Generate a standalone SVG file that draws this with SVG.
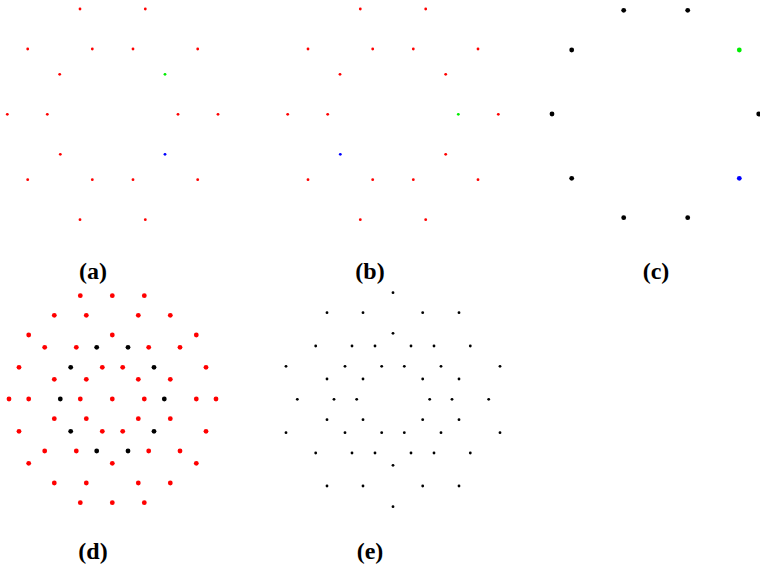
<svg xmlns="http://www.w3.org/2000/svg" width="760" height="570" viewBox="0 0 760 570">
<style>
.r{fill:#ff0000}.g{fill:#00ee00}.b{fill:#0000ff}.k{fill:#000000}
.lbl{font-family:"Liberation Serif",serif;font-weight:bold;font-size:24px;fill:#000;text-anchor:middle}
</style>
<rect width="760" height="570" fill="#ffffff"/>
<g id="panel-a">
<g class="r">
<circle cx="80" cy="9" r="1.4"/><circle cx="145.3" cy="9" r="1.4"/>
<circle cx="27.7" cy="49" r="1.4"/><circle cx="92.3" cy="49" r="1.4"/><circle cx="133" cy="49" r="1.4"/><circle cx="197.7" cy="49" r="1.4"/>
<circle cx="59.7" cy="74.3" r="1.4"/>
<circle cx="7.3" cy="114.3" r="1.4"/><circle cx="47.3" cy="114.3" r="1.4"/><circle cx="178" cy="114.3" r="1.4"/><circle cx="218" cy="114.3" r="1.4"/>
<circle cx="60.3" cy="154.3" r="1.4"/>
<circle cx="27.7" cy="179.7" r="1.4"/><circle cx="92.3" cy="179.7" r="1.4"/><circle cx="133" cy="179.7" r="1.4"/><circle cx="197.7" cy="179.7" r="1.4"/>
<circle cx="80" cy="219.7" r="1.4"/><circle cx="145.3" cy="219.7" r="1.4"/>
</g>
<circle class="g" cx="165" cy="74.3" r="1.4"/>
<circle class="b" cx="165" cy="154.3" r="1.4"/>
<text class="lbl" x="93" y="279">(a)</text>
</g>
<g id="panel-b">
<g class="r">
<circle cx="360.3" cy="9" r="1.4"/><circle cx="425.7" cy="9" r="1.4"/>
<circle cx="308" cy="49" r="1.4"/><circle cx="372.7" cy="49" r="1.4"/><circle cx="413.3" cy="49" r="1.4"/><circle cx="478" cy="49" r="1.4"/>
<circle cx="340" cy="74.3" r="1.4"/><circle cx="445.7" cy="74.3" r="1.4"/>
<circle cx="287.7" cy="114.3" r="1.4"/><circle cx="327.7" cy="114.3" r="1.4"/><circle cx="498.3" cy="114.3" r="1.4"/>
<circle cx="445.7" cy="154.3" r="1.4"/>
<circle cx="308" cy="179.7" r="1.4"/><circle cx="372.7" cy="179.7" r="1.4"/><circle cx="413.3" cy="179.7" r="1.4"/><circle cx="478" cy="179.7" r="1.4"/>
<circle cx="360.3" cy="219.7" r="1.4"/><circle cx="425.7" cy="219.7" r="1.4"/>
</g>
<circle class="g" cx="458.3" cy="114.3" r="1.4"/>
<circle class="b" cx="340.3" cy="154.3" r="1.4"/>
<text class="lbl" x="370" y="279">(b)</text>
</g>
<g id="panel-c">
<g class="k">
<circle cx="623.7" cy="10.3" r="2.4"/><circle cx="687.7" cy="10.3" r="2.4"/>
<circle cx="571.7" cy="50" r="2.4"/>
<circle cx="552" cy="114" r="2.4"/><circle cx="758.7" cy="114" r="2.4"/>
<circle cx="571.7" cy="178.3" r="2.4"/>
<circle cx="623.7" cy="217.7" r="2.4"/><circle cx="687.7" cy="217.7" r="2.4"/>
</g>
<circle class="g" cx="739.3" cy="50" r="2.4"/>
<circle class="b" cx="739.3" cy="178.3" r="2.4"/>
<text class="lbl" x="656" y="279">(c)</text>
</g>
<g id="panel-d">
<g class="r">
<circle cx="80.3" cy="295.7" r="2.4"/><circle cx="112.3" cy="295.7" r="2.4"/><circle cx="144.3" cy="295.7" r="2.4"/>
<circle cx="54.3" cy="315.3" r="2.4"/><circle cx="86.3" cy="315.3" r="2.4"/><circle cx="138.3" cy="315.3" r="2.4"/><circle cx="170.3" cy="315.3" r="2.4"/>
<circle cx="28.7" cy="335" r="2.4"/><circle cx="112.3" cy="335" r="2.4"/><circle cx="196.3" cy="335" r="2.4"/>
<circle cx="44.7" cy="347.3" r="2.4"/><circle cx="76.3" cy="347.3" r="2.4"/><circle cx="148.7" cy="347.3" r="2.4"/><circle cx="180" cy="347.3" r="2.4"/>
<circle cx="19" cy="367.3" r="2.4"/><circle cx="102.3" cy="367.3" r="2.4"/><circle cx="122.7" cy="367.3" r="2.4"/><circle cx="206" cy="367.3" r="2.4"/>
<circle cx="54.3" cy="379.3" r="2.4"/><circle cx="86.3" cy="379.3" r="2.4"/><circle cx="138.3" cy="379.3" r="2.4"/><circle cx="170.3" cy="379.3" r="2.4"/>
<circle cx="9" cy="399" r="2.4"/><circle cx="28.7" cy="399" r="2.4"/><circle cx="80.3" cy="399" r="2.4"/><circle cx="112.3" cy="399" r="2.4"/><circle cx="144.3" cy="399" r="2.4"/><circle cx="196.3" cy="399" r="2.4"/><circle cx="216" cy="399" r="2.4"/>
<circle cx="54.3" cy="418.7" r="2.4"/><circle cx="86.3" cy="418.7" r="2.4"/><circle cx="138.3" cy="418.7" r="2.4"/><circle cx="170.3" cy="418.7" r="2.4"/>
<circle cx="19" cy="431.3" r="2.4"/><circle cx="102.3" cy="431.3" r="2.4"/><circle cx="122.7" cy="431.3" r="2.4"/><circle cx="206" cy="431.3" r="2.4"/>
<circle cx="44.7" cy="451" r="2.4"/><circle cx="76.3" cy="451" r="2.4"/><circle cx="148.7" cy="451" r="2.4"/><circle cx="180" cy="451" r="2.4"/>
<circle cx="28.7" cy="463.3" r="2.4"/><circle cx="112.3" cy="463.3" r="2.4"/><circle cx="196.3" cy="463.3" r="2.4"/>
<circle cx="54.3" cy="483" r="2.4"/><circle cx="86.3" cy="483" r="2.4"/><circle cx="138.3" cy="483" r="2.4"/><circle cx="170.3" cy="483" r="2.4"/>
<circle cx="80.3" cy="502.7" r="2.4"/><circle cx="112.3" cy="502.7" r="2.4"/><circle cx="144.3" cy="502.7" r="2.4"/>
</g>
<g class="k">
<circle cx="96.7" cy="347.3" r="2.4"/><circle cx="128" cy="347.3" r="2.4"/>
<circle cx="70.7" cy="367.3" r="2.4"/><circle cx="154" cy="367.3" r="2.4"/>
<circle cx="60.3" cy="399" r="2.4"/><circle cx="164.3" cy="399" r="2.4"/>
<circle cx="70.7" cy="431.3" r="2.4"/><circle cx="154" cy="431.3" r="2.4"/>
<circle cx="96.7" cy="451" r="2.4"/><circle cx="128" cy="451" r="2.4"/>
</g>
<text class="lbl" x="93" y="559">(d)</text>
</g>
<g id="panel-e">
<g class="k">
<circle cx="393" cy="292.7" r="1.4"/>
<circle cx="327" cy="312.7" r="1.4"/><circle cx="363" cy="312.7" r="1.4"/><circle cx="422.7" cy="312.7" r="1.4"/><circle cx="459" cy="312.7" r="1.4"/>
<circle cx="393" cy="333.3" r="1.4"/>
<circle cx="315.7" cy="346" r="1.4"/><circle cx="352" cy="346" r="1.4"/><circle cx="375" cy="346" r="1.4"/><circle cx="411" cy="346" r="1.4"/><circle cx="434" cy="346" r="1.4"/><circle cx="470.3" cy="346" r="1.4"/>
<circle cx="286" cy="366.3" r="1.4"/><circle cx="345" cy="366.3" r="1.4"/><circle cx="381.7" cy="366.3" r="1.4"/><circle cx="404.3" cy="366.3" r="1.4"/><circle cx="441" cy="366.3" r="1.4"/><circle cx="500" cy="366.3" r="1.4"/>
<circle cx="327" cy="379" r="1.4"/><circle cx="363" cy="379" r="1.4"/><circle cx="422.7" cy="379" r="1.4"/><circle cx="459" cy="379" r="1.4"/>
<circle cx="297.3" cy="399.3" r="1.4"/><circle cx="334" cy="399.3" r="1.4"/><circle cx="356.7" cy="399.3" r="1.4"/><circle cx="429.7" cy="399.3" r="1.4"/><circle cx="452" cy="399.3" r="1.4"/><circle cx="488.7" cy="399.3" r="1.4"/>
<circle cx="327" cy="419.7" r="1.4"/><circle cx="363" cy="419.7" r="1.4"/><circle cx="422.7" cy="419.7" r="1.4"/><circle cx="459" cy="419.7" r="1.4"/>
<circle cx="286" cy="432.7" r="1.4"/><circle cx="345" cy="432.7" r="1.4"/><circle cx="381.7" cy="432.7" r="1.4"/><circle cx="404.3" cy="432.7" r="1.4"/><circle cx="441" cy="432.7" r="1.4"/><circle cx="500" cy="432.7" r="1.4"/>
<circle cx="315.7" cy="453" r="1.4"/><circle cx="352" cy="453" r="1.4"/><circle cx="375" cy="453" r="1.4"/><circle cx="411" cy="453" r="1.4"/><circle cx="434" cy="453" r="1.4"/><circle cx="470.3" cy="453" r="1.4"/>
<circle cx="393" cy="465.3" r="1.4"/>
<circle cx="327" cy="486" r="1.4"/><circle cx="363" cy="486" r="1.4"/><circle cx="422.7" cy="486" r="1.4"/><circle cx="459" cy="486" r="1.4"/>
<circle cx="393" cy="506.7" r="1.4"/>
</g>
<text class="lbl" x="370" y="559">(e)</text>
</g>
</svg>
